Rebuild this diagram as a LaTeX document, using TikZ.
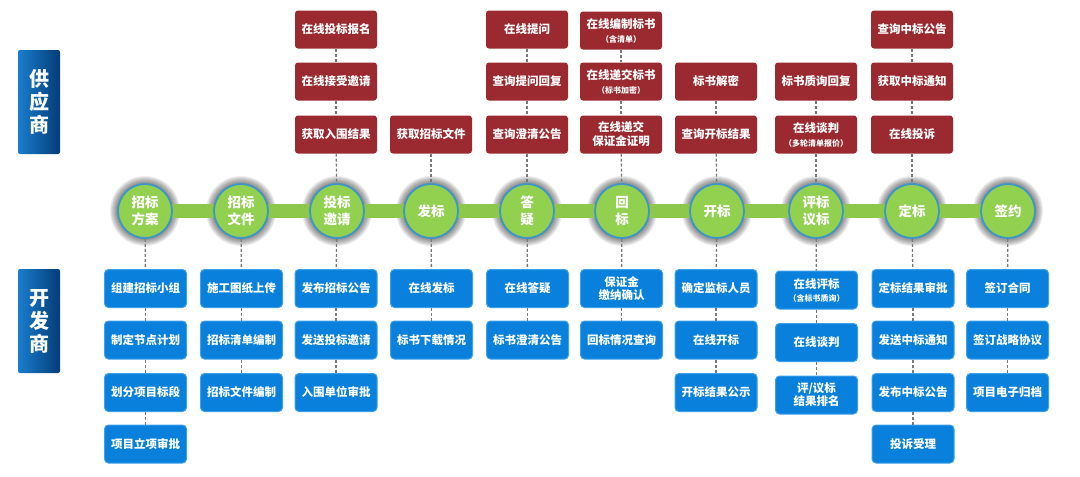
\documentclass[tikz,border=0pt]{standalone}
\usepackage{fontspec}
\setmainfont{Noto Sans CJK SC}
\usetikzlibrary{backgrounds}
\definecolor{supred}{RGB}{155,42,48}
\definecolor{devblue}{RGB}{8,128,220}
\definecolor{devedge}{RGB}{60,160,235}
\definecolor{stagegreen}{RGB}{146,208,80}
\definecolor{bargreen}{RGB}{142,200,75}
\definecolor{ringblue}{RGB}{60,150,200}
\definecolor{dashgray}{RGB}{120,120,120}
\definecolor{lblL}{RGB}{25,125,205}
\definecolor{lblR}{RGB}{5,60,120}
\newcommand\subt[1]{{\fontsize{8}{9}\selectfont #1}}
\tikzset{
  supbox/.style={fill=supred, rounded corners=3pt, text=white,
    font=\bfseries\fontsize{11.5}{14}\selectfont, minimum width=82pt,
    minimum height=38pt, inner sep=0pt, align=center},
  devbox/.style={fill=devblue, draw=devedge, line width=1pt, rounded corners=4pt,
    text=white, font=\bfseries\fontsize{11.5}{13}\selectfont, minimum width=82pt,
    minimum height=38pt, inner sep=0pt, align=center},
  stagec/.style={circle, fill=stagegreen, draw=ringblue, line width=1.8pt,
    minimum size=54pt, inner sep=0pt, text=white,
    font=\bfseries\fontsize{13.5}{17}\selectfont, align=center},
  lbl/.style={rounded corners=2pt, left color=lblL, right color=lblR,
    minimum width=42pt, minimum height=104pt, inner sep=0pt, text=white,
    font=\bfseries\fontsize{20}{23}\selectfont, align=center},
  link/.style={draw=dashgray, dash pattern=on 3pt off 2pt, line width=1.3pt},
  bar/.style={draw=bargreen, line width=14pt}
}
\begin{document}
\begin{tikzpicture}[x=1pt,y=-1pt]
\useasboundingbox (0,0) rectangle (1080,477);
% side labels
\node[lbl] (gys) at (39,102) {供\\应\\商};
\node[lbl] (kfs) at (39,321) {开\\发\\商};
% stages
\node[stagec] (s1) at (145,211) {招标\\方案};
\node[stagec] (s2) at (241,211) {招标\\文件};
\node[stagec] (s3) at (337,211) {投标\\邀请};
\node[stagec] (s4) at (431,211) {发标};
\node[stagec] (s5) at (527,211) {答\\疑};
\node[stagec] (s6) at (622,211) {回\\标};
\node[stagec] (s7) at (717,211) {开标};
\node[stagec] (s8) at (816,211) {评标\\议标};
\node[stagec] (s9) at (912,211) {定标};
\node[stagec] (s10) at (1008,211) {签约};
\begin{scope}[on background layer]
  \foreach \s in {s1,s2,s3,s4,s5,s6,s7,s8,s9,s10}{
    \foreach \r in {28,29,...,35}{
      \fill[black, opacity=0.07] (\s.center) circle (\r pt);
    }
  }
  \draw[bar] (s1.center) -- (s2.center) -- (s3.center) -- (s4.center) -- (s5.center)
    -- (s6.center) -- (s7.center) -- (s8.center) -- (s9.center) -- (s10.center);
\end{scope}
% supplier boxes
\node[supbox] (t3a) at (336,29.5) {在线投标报名};
\node[supbox] (t3b) at (336,81.5) {在线接受邀请};
\node[supbox] (t3c) at (336,134.5) {获取入围结果};
\node[supbox] (t4c) at (431,134.5) {获取招标文件};
\node[supbox] (t5a) at (527,29.5) {在线提问};
\node[supbox] (t5b) at (527,81.5) {查询提问回复};
\node[supbox] (t5c) at (527,134.5) {查询澄清公告};
\node[supbox] (t6a) at (621,30.5) {在线编制标书\\\subt{（含清单）}};
\node[supbox] (t6b) at (621,81.5) {在线递交标书\\\subt{（标书加密）}};
\node[supbox] (t6c) at (621,134.5) {在线递交\\保证金证明};
\node[supbox] (t7b) at (716,81.5) {标书解密};
\node[supbox] (t7c) at (716,134.5) {查询开标结果};
\node[supbox] (t8b) at (816,81.5) {标书质询回复};
\node[supbox] (t8c) at (816,134.5) {在线谈判\\\subt{（多轮清单报价）}};
\node[supbox] (t9a) at (912,29.5) {查询中标公告};
\node[supbox] (t9b) at (912,81.5) {获取中标通知};
\node[supbox] (t9c) at (912,134.5) {在线投诉};
% developer boxes
\node[devbox] (b1a) at (145.5,288.5) {组建招标小组};
\node[devbox] (b1b) at (145.5,340) {制定节点计划};
\node[devbox] (b1c) at (145.5,392.5) {划分项目标段};
\node[devbox] (b1d) at (145.5,444) {项目立项审批};
\node[devbox] (b2a) at (241.5,288.5) {施工图纸上传};
\node[devbox] (b2b) at (241.5,340) {招标清单编制};
\node[devbox] (b2c) at (241.5,392.5) {招标文件编制};
\node[devbox] (b3a) at (336,288.5) {发布招标公告};
\node[devbox] (b3b) at (336,340) {发送投标邀请};
\node[devbox] (b3c) at (336,392.5) {入围单位审批};
\node[devbox] (b4a) at (431.5,288.5) {在线发标};
\node[devbox] (b4b) at (431.5,340) {标书下载情况};
\node[devbox] (b5a) at (527.5,288.5) {在线答疑};
\node[devbox] (b5b) at (527.5,340) {标书澄清公告};
\node[devbox] (b6a) at (621.5,288.5) {保证金\\缴纳确认};
\node[devbox] (b6b) at (621.5,340) {回标情况查询};
\node[devbox] (b7a) at (716,288.5) {确定监标人员};
\node[devbox] (b7b) at (716,340) {在线开标};
\node[devbox] (b7c) at (716,392.5) {开标结果公示};
\node[devbox] (b8a) at (816.5,290) {在线评标\\\subt{（含标书质询）}};
\node[devbox] (b8b) at (816.5,342.5) {在线谈判};
\node[devbox] (b8c) at (816.5,395) {评/议标\\结果排名};
\node[devbox] (b9a) at (913,288.5) {定标结果审批};
\node[devbox] (b9b) at (913,340) {发送中标通知};
\node[devbox] (b9c) at (913,392.5) {发布中标公告};
\node[devbox] (b9d) at (913,444) {投诉受理};
\node[devbox] (b10a) at (1007.5,288.5) {签订合同};
\node[devbox] (b10b) at (1007.5,340) {签订战略协议};
\node[devbox] (b10c) at (1007.5,392.5) {项目电子归档};
% supplier links
\draw[link] (t3a) -- (t3b); \draw[link] (t3b) -- (t3c); \draw[link] (t3c) -- (s3);
\draw[link] (t4c) -- (s4);
\draw[link] (t5a) -- (t5b); \draw[link] (t5b) -- (t5c); \draw[link] (t5c) -- (s5);
\draw[link] (t6a) -- (t6b); \draw[link] (t6b) -- (t6c); \draw[link] (t6c) -- (s6);
\draw[link] (t7b) -- (t7c); \draw[link] (t7c) -- (s7);
\draw[link] (t8b) -- (t8c); \draw[link] (t8c) -- (s8);
\draw[link] (t9a) -- (t9b); \draw[link] (t9b) -- (t9c); \draw[link] (t9c) -- (s9);
% developer links
\draw[link] (s1) -- (b1a); \draw[link] (b1a) -- (b1b); \draw[link] (b1b) -- (b1c); \draw[link] (b1c) -- (b1d);
\draw[link] (s2) -- (b2a); \draw[link] (b2a) -- (b2b); \draw[link] (b2b) -- (b2c);
\draw[link] (s3) -- (b3a); \draw[link] (b3a) -- (b3b); \draw[link] (b3b) -- (b3c);
\draw[link] (s4) -- (b4a); \draw[link] (b4a) -- (b4b);
\draw[link] (s5) -- (b5a); \draw[link] (b5a) -- (b5b);
\draw[link] (s6) -- (b6a); \draw[link] (b6a) -- (b6b);
\draw[link] (s7) -- (b7a); \draw[link] (b7a) -- (b7b); \draw[link] (b7b) -- (b7c);
\draw[link] (s8) -- (b8a); \draw[link] (b8a) -- (b8b); \draw[link] (b8b) -- (b8c);
\draw[link] (s9) -- (b9a); \draw[link] (b9a) -- (b9b); \draw[link] (b9b) -- (b9c); \draw[link] (b9c) -- (b9d);
\draw[link] (s10) -- (b10a); \draw[link] (b10a) -- (b10b); \draw[link] (b10b) -- (b10c);
\end{tikzpicture}
\end{document}
